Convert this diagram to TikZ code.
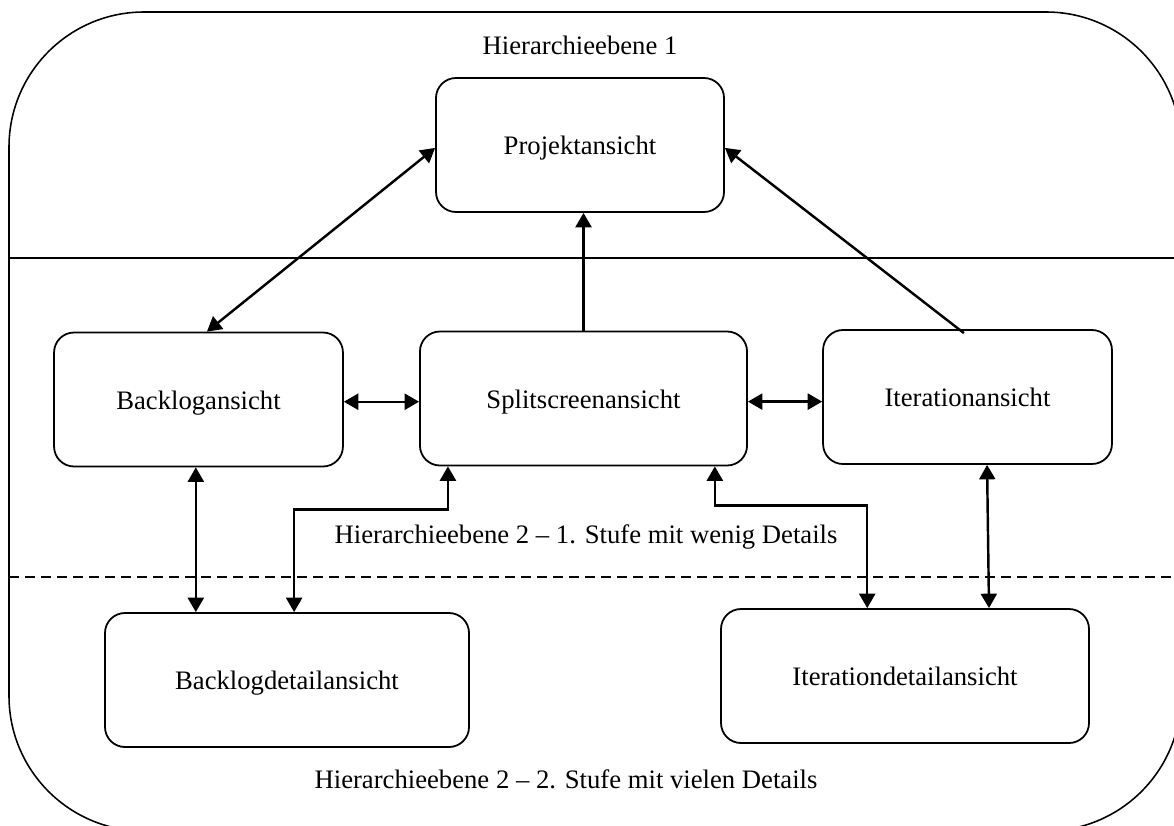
\documentclass[tikz,border=0pt]{standalone}
\usepackage{fontspec}
\setmainfont{Liberation Serif}
\usetikzlibrary{arrows.meta, positioning, calc}
\tikzset{
  view/.style       = {rectangle, rounded corners=9pt, draw=black, line width=0.8pt,
                       minimum height=60.3pt, inner sep=0pt, align=center,
                       text height=8.6pt, text depth=0pt,
                       font=\fontsize{12}{14}\selectfont},
  levellabel/.style = {anchor=base, inner sep=0pt, font=\fontsize{12}{14}\selectfont},
  levelline/.style  = {line width=0.8pt},
  arrow/.style      = {-{Triangle[length=6.5pt, width=7.2pt]}, line width=1.1pt},
  twoway/.style     = {{Triangle[length=6.5pt, width=7.2pt]}-{Triangle[length=6.5pt, width=7.2pt]},
                       line width=1.1pt},
}

\begin{document}
\begin{tikzpicture}[x=0.45pt, y=-0.45pt]
  \useasboundingbox (0,0) rectangle (1174,825);

  \draw[line width=0.7pt, rounded corners=60.75pt] (9,12) rectangle (1181,831);
  \draw[levelline] (9,258) -- (1181,258);
  \draw[levelline, dash pattern=on 4.5pt off 2.7pt] (9,577) -- (1181,577);

  \node[levellabel] (lvl1) at (580,55)  {Hierarchieebene 1};
  \node[levellabel] (lvl2) at (586,543) {Hierarchieebene 2 -- 1. Stufe mit wenig Details};
  \node[levellabel] (lvl3) at (566,788) {Hierarchieebene 2 -- 2. Stufe mit vielen Details};

  \node[view, minimum width=129.6pt] (proj)    at (580,145)   {Projektansicht};
  \node[view, minimum width=130pt]   (backlog) at (198.5,399.5) {Backlogansicht};
  \node[view, minimum width=147.2pt] (split)   at (583.5,398.5) {Splitscreenansicht};
  \node[view, minimum width=130pt]   (iter)    at (967.5,397) {Iterationansicht};
  \node[view, minimum width=163.8pt] (bdetail) at (287,680)   {Backlogdetailansicht};
  \node[view, minimum width=165.6pt] (idetail) at (905,676)   {Iterationdetailansicht};

  \draw[twoway] ([xshift=3.8pt]backlog.north) -- ([yshift=-1.3pt]proj.west);
  \draw[arrow]  (split.north) -- (split.north |- proj.south);
  \draw[arrow]  ([xshift=-1.6pt, yshift=-1.8pt]iter.north) -- ([yshift=-1.3pt]proj.east);
  \draw[twoway] ([yshift=-1pt]backlog.east) -- ([yshift=-1pt]backlog.east -| split.west);
  \draw[twoway] ([yshift=-1.4pt]split.east) -- ([yshift=-1.4pt]split.east -| iter.west);
  \draw[twoway] ([xshift=-1.2pt]backlog.south) -- ([xshift=-1.2pt]backlog.south |- bdetail.north);
  \draw[twoway] ([xshift=13pt]split.south west) -- ++(0,43) -| ([xshift=85.5pt]bdetail.north west);
  \draw[twoway] ([xshift=-14.9pt]split.south east) -- ++(0,39) -| ([xshift=66.2pt]idetail.north west);
  \draw[twoway] ([xshift=8.8pt]iter.south) -- ([xshift=121pt]idetail.north west);
\end{tikzpicture}
\end{document}
